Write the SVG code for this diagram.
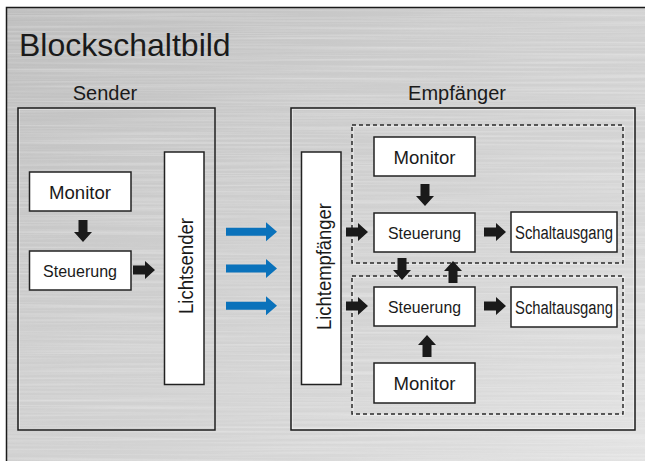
<svg xmlns="http://www.w3.org/2000/svg" xmlns:xlink="http://www.w3.org/1999/xlink" width="645" height="461" viewBox="0 0 645 461">
  <defs>
    <linearGradient id="metal" x1="0" y1="0" x2="1" y2="1">
      <stop offset="0" stop-color="#bdbdbd"/>
      <stop offset="0.35" stop-color="#cccccc"/>
      <stop offset="0.7" stop-color="#d6d6d6"/>
      <stop offset="1" stop-color="#e3e3e3"/>
    </linearGradient>
    <filter id="brush" x="0" y="0" width="1" height="1">
      <feTurbulence type="fractalNoise" baseFrequency="0.004 0.45" numOctaves="2" seed="7"/>
      <feColorMatrix type="matrix" values="0 0 0 0 1  0 0 0 0 1  0 0 0 0 1  1.4 0 0 0 -0.55"/>
    </filter>
    <path id="ar" d="M0,-4.5 H12 V-9 L22,0 L12,9 V4.5 H0 Z" fill="#1a1a1a"/>
    <path id="blue" d="M0,-4 H40 V-9.5 L51,0 L40,9.5 V4 H0 Z" fill="#0a72bb"/>
  </defs>
  <style>
    .frame { fill: none; stroke: #1a1a1a; stroke-width: 1.5; }
    .hl { fill: none; stroke: #ffffff; stroke-width: 1; opacity: 0.8; }
    .box { fill: #ffffff; stroke: #222222; stroke-width: 1.5; }
    .dash { fill: none; stroke: #2a2a2a; stroke-width: 1.5; stroke-dasharray: 4 3; }
    .dashhl { fill: none; stroke: #ffffff; stroke-width: 1; opacity: 0.7; }
    text { font-family: "Liberation Sans", Arial, sans-serif; fill: #1a1a1a; }
    .t19 { font-size: 19px; text-anchor: middle; }
    .t16 { font-size: 16.5px; text-anchor: middle; }
    .t18 { font-size: 18px; text-anchor: middle; }
    .t20 { font-size: 20px; text-anchor: middle; }
  </style>

  <rect x="0" y="0" width="645" height="461" fill="#ffffff"/>
  <rect x="6" y="7" width="645" height="460" fill="url(#metal)"/>
  <rect x="6" y="7" width="645" height="460" filter="url(#brush)" opacity="0.45"/>
  <path d="M6.5,470 V7.5 H645" class="frame"/>

  <text x="19" y="56" style="font-size:32px">Blockschaltbild</text>

  <g id="sender">
    <rect x="19" y="109" width="196" height="321" class="hl"/>
    <rect x="18" y="108" width="197" height="322" class="frame"/>
    <text x="105" y="100" class="t20">Sender</text>
  </g>
  <g id="sender-monitor">
    <rect x="29.5" y="172" width="101.5" height="39" class="box"/>
    <text x="80" y="198.5" class="t19" textLength="62" lengthAdjust="spacingAndGlyphs">Monitor</text>
  </g>
  <g id="sender-steuerung">
    <rect x="29.5" y="251" width="101.5" height="39" class="box"/>
    <text x="80" y="276.5" class="t16" textLength="74" lengthAdjust="spacingAndGlyphs">Steuerung</text>
  </g>
  <g id="lichtsender">
    <rect x="164.5" y="152" width="39.5" height="232.5" class="box"/>
    <text transform="translate(192.5,266) rotate(-90)" x="0" y="0" class="t20" textLength="96" lengthAdjust="spacingAndGlyphs">Lichtsender</text>
  </g>

  <g id="empfaenger">
    <rect x="292" y="109" width="342" height="320" class="hl"/>
    <rect x="291" y="108" width="344" height="322" class="frame"/>
    <text x="457" y="100" class="t20">Empfänger</text>
  </g>
  <g id="lichtempfaenger">
    <rect x="301.5" y="152" width="39.5" height="232.5" class="box"/>
    <text transform="translate(331,266.5) rotate(-90)" x="0" y="0" class="t20" textLength="127" lengthAdjust="spacingAndGlyphs">Lichtempfänger</text>
  </g>
  <g id="kanal1">
    <rect x="353" y="126" width="271" height="138" class="dashhl"/>
    <rect x="352" y="125" width="271" height="138" class="dash"/>
  </g>
  <g id="kanal2">
    <rect x="353" y="277" width="271" height="138" class="dashhl"/>
    <rect x="352" y="276" width="271" height="138" class="dash"/>
  </g>
  <g id="monitor1">
    <rect x="374" y="137" width="101" height="39" class="box"/>
    <text x="424.5" y="163.5" class="t19" textLength="62" lengthAdjust="spacingAndGlyphs">Monitor</text>
  </g>
  <g id="steuerung1">
    <rect x="374" y="213" width="101" height="39" class="box"/>
    <text x="424.5" y="238.5" class="t16" textLength="73" lengthAdjust="spacingAndGlyphs">Steuerung</text>
  </g>
  <g id="schaltausgang1">
    <rect x="511" y="212" width="106" height="40" class="box"/>
    <text x="564" y="238.5" class="t18" textLength="98" lengthAdjust="spacingAndGlyphs">Schaltausgang</text>
  </g>
  <g id="steuerung2">
    <rect x="374" y="287" width="101" height="39" class="box"/>
    <text x="424.5" y="312.5" class="t16" textLength="73" lengthAdjust="spacingAndGlyphs">Steuerung</text>
  </g>
  <g id="schaltausgang2">
    <rect x="511" y="287" width="106" height="40" class="box"/>
    <text x="564" y="313.5" class="t18" textLength="98" lengthAdjust="spacingAndGlyphs">Schaltausgang</text>
  </g>
  <g id="monitor2">
    <rect x="374" y="363" width="101" height="40" class="box"/>
    <text x="424.5" y="390" class="t19" textLength="62" lengthAdjust="spacingAndGlyphs">Monitor</text>
  </g>

  <g id="connectors">
    <use xlink:href="#ar" transform="translate(83,220) rotate(90)"/>
    <use xlink:href="#ar" transform="translate(133,270)"/>
    <use xlink:href="#blue" transform="translate(226,231.7)"/>
    <use xlink:href="#blue" transform="translate(226,268.5)"/>
    <use xlink:href="#blue" transform="translate(226,305.7)"/>
    <use xlink:href="#ar" transform="translate(425,184) rotate(90)"/>
    <use xlink:href="#ar" transform="translate(346,232)"/>
    <use xlink:href="#ar" transform="translate(484,232)"/>
    <use xlink:href="#ar" transform="translate(346,306)"/>
    <use xlink:href="#ar" transform="translate(484,306)"/>
    <use xlink:href="#ar" transform="translate(402,258) rotate(90)"/>
    <use xlink:href="#ar" transform="translate(453,283) rotate(-90)"/>
    <use xlink:href="#ar" transform="translate(427,357) rotate(-90)"/>
  </g>
</svg>
